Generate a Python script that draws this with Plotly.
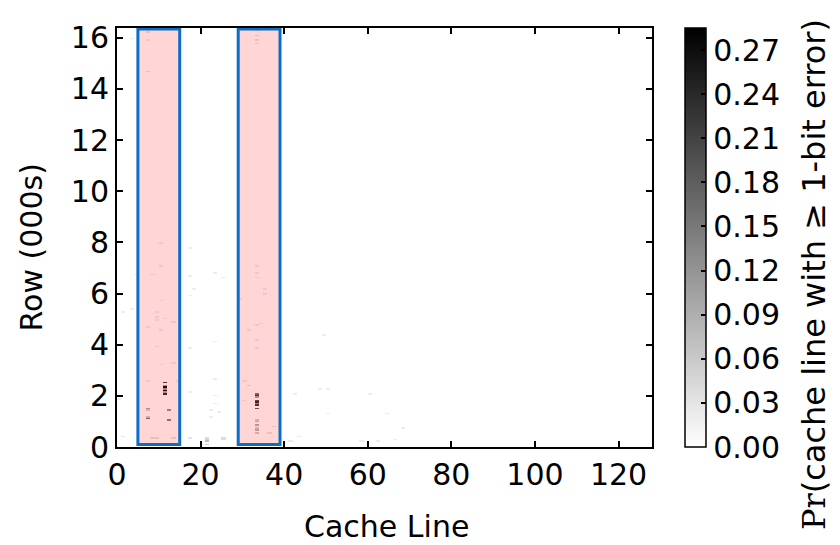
import numpy as np
import plotly.graph_objects as go

# ---------------- data ----------------
n_cols = 128
n_row_bins = 256
row_bin_k = 0.064          # thousands of rows per bin (64 rows)

# sparse non-zero cells: column, row (thousands), probability
mark_cols = [11, 11, 11, 11, 11, 11, 11,
             33, 33, 33, 33, 33, 33, 33, 33,
             33, 33, 33, 33, 33, 33,
             7, 7, 7, 7, 12, 12,
             1, 8, 9, 13, 17, 12,
             21, 21, 21, 21, 25, 25,
             23, 23, 30, 31, 23, 23, 22, 24, 22, 30, 37, 36, 33, 33,
             10, 13, 7, 14, 17, 0, 9, 17,
             10, 10, 8, 4, 17, 17, 18, 17, 10, 1, 3, 9, 9, 9, 11, 13, 9, 7, 10,
             33, 33, 33, 23, 25, 35, 35, 29, 34, 33, 31,
             3, 7, 7, 7, 33, 33, 33, 33,
             48, 50, 42, 60, 50, 64, 68, 43, 41, 62, 66, 58, 49]
mark_rows = [2.08, 2.15, 2.22, 2.29, 2.36, 2.43, 2.50,
             1.52, 1.60, 1.68, 1.76, 1.84, 1.92, 2.00, 2.08,
             0.56, 0.66, 0.76, 0.86, 0.96, 1.04,
             1.12, 1.18, 1.50, 1.42, 1.43, 1.08,
             0.42, 0.38, 0.38, 0.33, 0.36, 0.08,
             0.12, 0.20, 0.28, 0.36, 0.36, 0.28,
             4.14, 2.67, 2.60, 2.40, 2.00, 1.70, 1.43, 1.37, 1.17, 1.80, 0.77, 0.54, 4.20, 3.87,
             3.25, 3.30, 2.60, 2.60, 2.13, 1.90, 3.95, 3.90,
             7.97, 7.10, 6.77, 6.77, 7.80, 6.70, 6.15, 5.95, 5.73, 5.30, 5.40, 5.26, 5.10, 4.95, 5.03, 4.90, 5.30, 4.70, 4.60,
             7.10, 6.80, 6.60, 6.80, 6.60, 6.20, 5.96, 5.80, 4.80, 4.75, 4.60,
             15.97, 16.25, 15.90, 14.70, 16.30, 16.10, 15.90, 15.80,
             2.30, 2.30, 2.05, 2.05, 1.30, 1.28, 0.73, 0.39, 0.23, 0.23, 0.30, 0.20, 4.40]
mark_vals = [0.24, 0.10, 0.27, 0.12, 0.28, 0.10, 0.22,
             0.18, 0.22, 0.12, 0.24, 0.20, 0.10, 0.22, 0.16,
             0.06, 0.08, 0.05, 0.09, 0.07, 0.05,
             0.16, 0.06, 0.10, 0.05, 0.12, 0.14,
             0.03, 0.03, 0.03, 0.03, 0.03, 0.03,
             0.05, 0.07, 0.05, 0.04, 0.04, 0.04,
             0.02, 0.02, 0.02, 0.03, 0.02, 0.02, 0.02, 0.02, 0.02, 0.02, 0.03, 0.03, 0.02, 0.02,
             0.02, 0.02, 0.02, 0.02, 0.02, 0.02, 0.02, 0.02,
             0.02, 0.02, 0.02, 0.02, 0.02, 0.02, 0.02, 0.02, 0.02, 0.02, 0.02, 0.02, 0.02, 0.02, 0.02, 0.02, 0.02, 0.02, 0.02,
             0.02, 0.02, 0.02, 0.02, 0.02, 0.02, 0.02, 0.02, 0.02, 0.02, 0.02,
             0.02, 0.03, 0.02, 0.03, 0.04, 0.04, 0.03, 0.03,
             0.02, 0.02, 0.02, 0.02, 0.02, 0.02, 0.02, 0.02, 0.02, 0.02, 0.02, 0.02, 0.02]

# highlighted cache-line ranges
box_x0 = [5, 29]
box_x1 = [15, 39]

cbar_ticks = [0.00, 0.03, 0.06, 0.09, 0.12, 0.15, 0.18, 0.21, 0.24, 0.27]
x_ticks = [0, 20, 40, 60, 80, 100, 120]
y_ticks = [0, 2, 4, 6, 8, 10, 12, 14, 16]

# ---------------- build grid ----------------
z = np.zeros((n_row_bins, n_cols))
for c, r, v in zip(mark_cols, mark_rows, mark_vals):
    b = int(r / row_bin_k)
    if 0 <= b < n_row_bins:
        z[b, c] = v
x_centers = np.arange(n_cols) + 0.5
y_centers = (np.arange(n_row_bins) + 0.5) * row_bin_k
y_top = n_row_bins * row_bin_k

# page body has an 8px margin: figure origin sits at (8, 8) in the window
OFF = 8
L, R, T, B = 117 - OFF, 652 - OFF, 23 - OFF, 447 - OFF   # plot area in figure px
W, H = 840 - OFF, 545 - OFF
PW, PH = R - L, B - T


def px_x(p):   # window px -> paper x
    return (p - OFF - L) / PW


def px_y(p):   # window px -> paper y
    return (B - (p - OFF)) / PH


FONT = "DejaVu Sans"
fig = go.Figure()
fig.add_trace(go.Heatmap(
    x=x_centers, y=y_centers, z=z,
    zmin=0, zmax=0.285,
    colorscale=[[0, "rgb(255,255,255)"], [1, "rgb(0,0,0)"]],
    showscale=True,
    colorbar=dict(
        x=px_x(685), xanchor="left", xpad=0,
        y=0, yanchor="bottom", len=1, lenmode="fraction", ypad=0,
        thickness=21, outlinewidth=1.5, outlinecolor="black",
        tickvals=cbar_ticks, tickformat=".2f",
        ticks="inside", ticklen=5, tickwidth=1.5, tickcolor="black",
        tickfont=dict(family=FONT, size=30, color="black"),
    ),
    hoverinfo="skip",
))

for x0, x1 in zip(box_x0, box_x1):
    fig.add_shape(type="rect", xref="x", yref="y", x0=x0, x1=x1, y0=0.1, y1=y_top - 0.04,
                  fillcolor="rgba(255,0,0,0.165)", line=dict(color="rgb(10,110,195)", width=3),
                  layer="above")

axis_common = dict(showline=True, linecolor="black", linewidth=2, mirror="ticks",
                   ticks="inside", ticklen=6, tickwidth=2, tickcolor="black",
                   showgrid=False, zeroline=False,
                   tickfont=dict(family=FONT, size=30, color="black"))
fig.update_xaxes(range=[0, n_cols], tickvals=x_ticks, **axis_common)
fig.update_yaxes(range=[0, y_top], tickvals=y_ticks, **axis_common)

fig.add_annotation(text="Cache Line", xref="paper", yref="paper",
                   x=px_x(387), y=px_y(527), xanchor="center", yanchor="middle",
                   showarrow=False, font=dict(family=FONT, size=30, color="black"))
fig.add_annotation(text="Row (000s)", xref="paper", yref="paper", textangle=-90,
                   x=px_x(31), y=px_y(245), xanchor="center", yanchor="middle",
                   showarrow=False, font=dict(family=FONT, size=30, color="black"))
fig.add_annotation(text="<span style='font-family:DejaVu Serif'>Pr</span>(cache line with ≥ 1-bit error)",
                   xref="paper", yref="paper", textangle=-90,
                   x=px_x(814), y=px_y(273), xanchor="center", yanchor="middle",
                   showarrow=False, font=dict(family=FONT, size=32, color="black"))

fig.update_layout(width=W, height=H,
                  margin=dict(l=L, r=W - R, t=T, b=H - B),
                  paper_bgcolor="white", plot_bgcolor="white",
                  showlegend=False)
fig.write_html("out.html")
